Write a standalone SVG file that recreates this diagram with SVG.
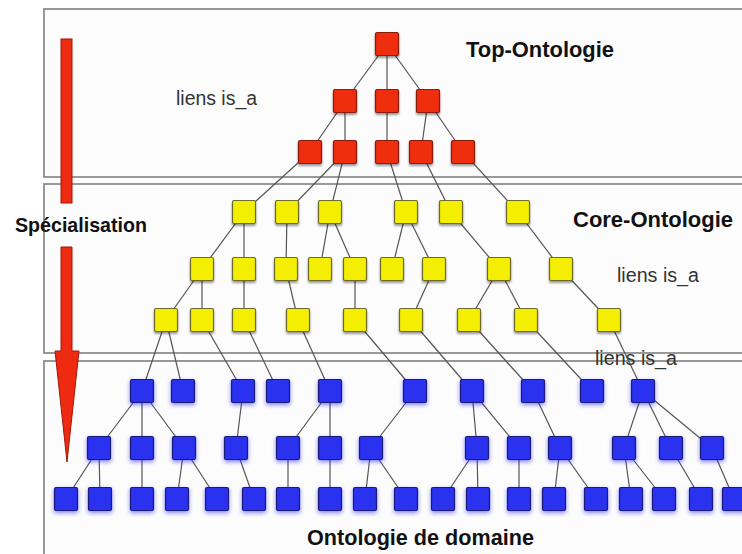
<svg xmlns="http://www.w3.org/2000/svg" width="742" height="554" viewBox="0 0 742 554">
<style>
.box{fill:#fcfcfc;stroke:#8e8e8e;stroke-width:1.8}
.e line{stroke:#555;stroke-width:1.2}
.rn{fill:#ef2d10;stroke:#8a1c0a;stroke-width:1.2;filter:url(#sh)}
.yn{fill:#f4ef00;stroke:#6d6a2a;stroke-width:1.2;filter:url(#sh)}
.bn{fill:#2b30ef;stroke:#1c1f78;stroke-width:1.2;filter:url(#bsh)}
.t{font-family:"Liberation Sans",Arial,sans-serif;font-weight:bold;fill:#111}
.l{font-family:"Liberation Sans",Arial,sans-serif;fill:#333;font-size:20px}
.arr{fill:#ee2a10;stroke:#a01808;stroke-width:1}
</style>
<defs>
<filter id="sh" x="-30%" y="-30%" width="160%" height="170%"><feDropShadow dx="0" dy="2" stdDeviation="1.3" flood-color="#000" flood-opacity="0.4"/></filter>
<filter id="bsh" x="-40%" y="-40%" width="180%" height="190%"><feDropShadow dx="0" dy="2" stdDeviation="2" flood-color="#2020ff" flood-opacity="0.55"/></filter>
</defs>
<rect width="742" height="554" fill="#ffffff"/>
<g id="sections">
<rect class="box" x="44" y="9" width="720" height="168"/>
<rect class="box" x="44" y="184" width="720" height="169"/>
<rect class="box" x="44" y="361" width="720" height="220"/>
</g>
<g id="arrow">
<rect class="arr" x="61" y="39" width="11" height="164"/>
<polygon class="arr" points="61,247 72,247 72,351 79,351 67,462 55,351 61,351"/>
</g>
<g id="connectors" class="e">
<line x1="387" y1="44" x2="345" y2="101"/><line x1="387" y1="44" x2="387" y2="101"/><line x1="387" y1="44" x2="428" y2="101"/>
<line x1="345" y1="101" x2="310" y2="152"/><line x1="345" y1="101" x2="345" y2="152"/><line x1="387" y1="101" x2="387" y2="152"/>
<line x1="428" y1="101" x2="421" y2="152"/><line x1="428" y1="101" x2="463" y2="152"/>
<line x1="310" y1="152" x2="244" y2="212"/><line x1="345" y1="152" x2="287" y2="212"/><line x1="345" y1="152" x2="330" y2="212"/>
<line x1="387" y1="152" x2="406" y2="212"/><line x1="421" y1="152" x2="451" y2="212"/><line x1="463" y1="152" x2="518" y2="212"/>
<line x1="244" y1="212" x2="202" y2="269"/><line x1="244" y1="212" x2="244" y2="269"/><line x1="287" y1="212" x2="286" y2="269"/>
<line x1="330" y1="212" x2="320" y2="269"/><line x1="330" y1="212" x2="355" y2="269"/><line x1="406" y1="212" x2="392" y2="269"/>
<line x1="406" y1="212" x2="434" y2="269"/><line x1="451" y1="212" x2="499" y2="269"/><line x1="518" y1="212" x2="561" y2="269"/>
<line x1="202" y1="269" x2="166" y2="320"/><line x1="202" y1="269" x2="202" y2="320"/><line x1="244" y1="269" x2="244" y2="320"/>
<line x1="286" y1="269" x2="298" y2="320"/><line x1="355" y1="269" x2="355" y2="320"/><line x1="434" y1="269" x2="411" y2="320"/>
<line x1="499" y1="269" x2="469" y2="320"/><line x1="499" y1="269" x2="526" y2="320"/><line x1="561" y1="269" x2="609" y2="320"/>
<line x1="166" y1="320" x2="142" y2="391"/><line x1="166" y1="320" x2="183" y2="391"/><line x1="202" y1="320" x2="243" y2="391"/>
<line x1="244" y1="320" x2="278" y2="391"/><line x1="298" y1="320" x2="330" y2="391"/><line x1="355" y1="320" x2="415" y2="391"/>
<line x1="411" y1="320" x2="472" y2="391"/><line x1="469" y1="320" x2="533" y2="391"/><line x1="526" y1="320" x2="592" y2="391"/>
<line x1="609" y1="320" x2="643" y2="391"/>
<line x1="142" y1="391" x2="99" y2="448"/><line x1="142" y1="391" x2="142" y2="448"/><line x1="142" y1="391" x2="184" y2="448"/>
<line x1="243" y1="391" x2="236" y2="448"/><line x1="330" y1="391" x2="288" y2="448"/><line x1="330" y1="391" x2="330" y2="448"/>
<line x1="415" y1="391" x2="371" y2="448"/><line x1="472" y1="391" x2="477" y2="448"/><line x1="472" y1="391" x2="519" y2="448"/>
<line x1="533" y1="391" x2="560" y2="448"/><line x1="643" y1="391" x2="624" y2="448"/><line x1="643" y1="391" x2="671" y2="448"/>
<line x1="643" y1="391" x2="712" y2="448"/>
<line x1="99" y1="448" x2="66" y2="499"/><line x1="99" y1="448" x2="100" y2="499"/><line x1="142" y1="448" x2="142" y2="499"/>
<line x1="184" y1="448" x2="177" y2="499"/><line x1="184" y1="448" x2="217" y2="499"/><line x1="236" y1="448" x2="254" y2="499"/>
<line x1="288" y1="448" x2="288" y2="499"/><line x1="330" y1="448" x2="330" y2="499"/><line x1="371" y1="448" x2="365" y2="499"/>
<line x1="371" y1="448" x2="406" y2="499"/><line x1="477" y1="448" x2="443" y2="499"/><line x1="477" y1="448" x2="478" y2="499"/>
<line x1="519" y1="448" x2="519" y2="499"/><line x1="560" y1="448" x2="554" y2="499"/><line x1="560" y1="448" x2="596" y2="499"/>
<line x1="624" y1="448" x2="631" y2="499"/><line x1="624" y1="448" x2="664" y2="499"/><line x1="671" y1="448" x2="701" y2="499"/>
<line x1="712" y1="448" x2="734" y2="499"/>
</g>
<g id="top-nodes">
<g id="r1"><rect class="rn" x="375.5" y="32.5" width="23" height="23" rx="1.5"/></g>
<g id="r2a"><rect class="rn" x="333.5" y="89.5" width="23" height="23" rx="1.5"/></g>
<g id="r2b"><rect class="rn" x="375.5" y="89.5" width="23" height="23" rx="1.5"/></g>
<g id="r2c"><rect class="rn" x="416.5" y="89.5" width="23" height="23" rx="1.5"/></g>
<g id="r3a"><rect class="rn" x="298.5" y="140.5" width="23" height="23" rx="1.5"/></g>
<g id="r3b"><rect class="rn" x="333.5" y="140.5" width="23" height="23" rx="1.5"/></g>
<g id="r3c"><rect class="rn" x="375.5" y="140.5" width="23" height="23" rx="1.5"/></g>
<g id="r3d"><rect class="rn" x="409.5" y="140.5" width="23" height="23" rx="1.5"/></g>
<g id="r3e"><rect class="rn" x="451.5" y="140.5" width="23" height="23" rx="1.5"/></g>
</g>
<g id="core-nodes">
<g id="y1a"><rect class="yn" x="232.5" y="200.5" width="23" height="23" rx="1.5"/></g>
<g id="y1b"><rect class="yn" x="275.5" y="200.5" width="23" height="23" rx="1.5"/></g>
<g id="y1c"><rect class="yn" x="318.5" y="200.5" width="23" height="23" rx="1.5"/></g>
<g id="y1d"><rect class="yn" x="394.5" y="200.5" width="23" height="23" rx="1.5"/></g>
<g id="y1e"><rect class="yn" x="439.5" y="200.5" width="23" height="23" rx="1.5"/></g>
<g id="y1f"><rect class="yn" x="506.5" y="200.5" width="23" height="23" rx="1.5"/></g>
<g id="y2a"><rect class="yn" x="190.5" y="257.5" width="23" height="23" rx="1.5"/></g>
<g id="y2b"><rect class="yn" x="232.5" y="257.5" width="23" height="23" rx="1.5"/></g>
<g id="y2c"><rect class="yn" x="274.5" y="257.5" width="23" height="23" rx="1.5"/></g>
<g id="y2d"><rect class="yn" x="308.5" y="257.5" width="23" height="23" rx="1.5"/></g>
<g id="y2e"><rect class="yn" x="343.5" y="257.5" width="23" height="23" rx="1.5"/></g>
<g id="y2f"><rect class="yn" x="380.5" y="257.5" width="23" height="23" rx="1.5"/></g>
<g id="y2g"><rect class="yn" x="422.5" y="257.5" width="23" height="23" rx="1.5"/></g>
<g id="y2h"><rect class="yn" x="487.5" y="257.5" width="23" height="23" rx="1.5"/></g>
<g id="y2i"><rect class="yn" x="549.5" y="257.5" width="23" height="23" rx="1.5"/></g>
<g id="y3a"><rect class="yn" x="154.5" y="308.5" width="23" height="23" rx="1.5"/></g>
<g id="y3b"><rect class="yn" x="190.5" y="308.5" width="23" height="23" rx="1.5"/></g>
<g id="y3c"><rect class="yn" x="232.5" y="308.5" width="23" height="23" rx="1.5"/></g>
<g id="y3d"><rect class="yn" x="286.5" y="308.5" width="23" height="23" rx="1.5"/></g>
<g id="y3e"><rect class="yn" x="343.5" y="308.5" width="23" height="23" rx="1.5"/></g>
<g id="y3f"><rect class="yn" x="399.5" y="308.5" width="23" height="23" rx="1.5"/></g>
<g id="y3g"><rect class="yn" x="457.5" y="308.5" width="23" height="23" rx="1.5"/></g>
<g id="y3h"><rect class="yn" x="514.5" y="308.5" width="23" height="23" rx="1.5"/></g>
<g id="y3i"><rect class="yn" x="597.5" y="308.5" width="23" height="23" rx="1.5"/></g>
</g>
<g id="domain-nodes">
<g id="b1a"><rect class="bn" x="130.5" y="379.5" width="23" height="23" rx="1.5"/></g>
<g id="b1b"><rect class="bn" x="171.5" y="379.5" width="23" height="23" rx="1.5"/></g>
<g id="b1c"><rect class="bn" x="231.5" y="379.5" width="23" height="23" rx="1.5"/></g>
<g id="b1d"><rect class="bn" x="266.5" y="379.5" width="23" height="23" rx="1.5"/></g>
<g id="b1e"><rect class="bn" x="318.5" y="379.5" width="23" height="23" rx="1.5"/></g>
<g id="b1f"><rect class="bn" x="403.5" y="379.5" width="23" height="23" rx="1.5"/></g>
<g id="b1g"><rect class="bn" x="460.5" y="379.5" width="23" height="23" rx="1.5"/></g>
<g id="b1h"><rect class="bn" x="521.5" y="379.5" width="23" height="23" rx="1.5"/></g>
<g id="b1i"><rect class="bn" x="580.5" y="379.5" width="23" height="23" rx="1.5"/></g>
<g id="b1j"><rect class="bn" x="631.5" y="379.5" width="23" height="23" rx="1.5"/></g>
<g id="b2a"><rect class="bn" x="87.5" y="436.5" width="23" height="23" rx="1.5"/></g>
<g id="b2b"><rect class="bn" x="130.5" y="436.5" width="23" height="23" rx="1.5"/></g>
<g id="b2c"><rect class="bn" x="172.5" y="436.5" width="23" height="23" rx="1.5"/></g>
<g id="b2d"><rect class="bn" x="224.5" y="436.5" width="23" height="23" rx="1.5"/></g>
<g id="b2e"><rect class="bn" x="276.5" y="436.5" width="23" height="23" rx="1.5"/></g>
<g id="b2f"><rect class="bn" x="318.5" y="436.5" width="23" height="23" rx="1.5"/></g>
<g id="b2g"><rect class="bn" x="359.5" y="436.5" width="23" height="23" rx="1.5"/></g>
<g id="b2h"><rect class="bn" x="465.5" y="436.5" width="23" height="23" rx="1.5"/></g>
<g id="b2i"><rect class="bn" x="507.5" y="436.5" width="23" height="23" rx="1.5"/></g>
<g id="b2j"><rect class="bn" x="548.5" y="436.5" width="23" height="23" rx="1.5"/></g>
<g id="b2k"><rect class="bn" x="612.5" y="436.5" width="23" height="23" rx="1.5"/></g>
<g id="b2l"><rect class="bn" x="659.5" y="436.5" width="23" height="23" rx="1.5"/></g>
<g id="b2m"><rect class="bn" x="700.5" y="436.5" width="23" height="23" rx="1.5"/></g>
<g id="b3a"><rect class="bn" x="54.5" y="487.5" width="23" height="23" rx="1.5"/></g>
<g id="b3b"><rect class="bn" x="88.5" y="487.5" width="23" height="23" rx="1.5"/></g>
<g id="b3c"><rect class="bn" x="130.5" y="487.5" width="23" height="23" rx="1.5"/></g>
<g id="b3d"><rect class="bn" x="165.5" y="487.5" width="23" height="23" rx="1.5"/></g>
<g id="b3e"><rect class="bn" x="205.5" y="487.5" width="23" height="23" rx="1.5"/></g>
<g id="b3f"><rect class="bn" x="242.5" y="487.5" width="23" height="23" rx="1.5"/></g>
<g id="b3g"><rect class="bn" x="276.5" y="487.5" width="23" height="23" rx="1.5"/></g>
<g id="b3h"><rect class="bn" x="318.5" y="487.5" width="23" height="23" rx="1.5"/></g>
<g id="b3i"><rect class="bn" x="353.5" y="487.5" width="23" height="23" rx="1.5"/></g>
<g id="b3j"><rect class="bn" x="394.5" y="487.5" width="23" height="23" rx="1.5"/></g>
<g id="b3k"><rect class="bn" x="431.5" y="487.5" width="23" height="23" rx="1.5"/></g>
<g id="b3l"><rect class="bn" x="466.5" y="487.5" width="23" height="23" rx="1.5"/></g>
<g id="b3m"><rect class="bn" x="507.5" y="487.5" width="23" height="23" rx="1.5"/></g>
<g id="b3n"><rect class="bn" x="542.5" y="487.5" width="23" height="23" rx="1.5"/></g>
<g id="b3o"><rect class="bn" x="584.5" y="487.5" width="23" height="23" rx="1.5"/></g>
<g id="b3p"><rect class="bn" x="619.5" y="487.5" width="23" height="23" rx="1.5"/></g>
<g id="b3q"><rect class="bn" x="652.5" y="487.5" width="23" height="23" rx="1.5"/></g>
<g id="b3r"><rect class="bn" x="689.5" y="487.5" width="23" height="23" rx="1.5"/></g>
<g id="b3s"><rect class="bn" x="722.5" y="487.5" width="23" height="23" rx="1.5"/></g>
</g>
<g id="labels">
<text class="t" x="466" y="57" font-size="21.5" textLength="148" lengthAdjust="spacingAndGlyphs">Top-Ontologie</text>
<text class="t" x="573" y="227" font-size="21.5" textLength="160" lengthAdjust="spacingAndGlyphs">Core-Ontologie</text>
<text class="t" x="307" y="545" font-size="22" textLength="227" lengthAdjust="spacingAndGlyphs">Ontologie de domaine</text>
<text class="t" x="15" y="232" font-size="21" textLength="132" lengthAdjust="spacingAndGlyphs">Spécialisation</text>
<text class="l" x="176" y="105" textLength="81" lengthAdjust="spacingAndGlyphs">liens is_a</text>
<text class="l" x="617" y="282" textLength="82" lengthAdjust="spacingAndGlyphs">liens is_a</text>
<text class="l" x="595" y="365" textLength="82" lengthAdjust="spacingAndGlyphs">liens is_a</text>
</g>
</svg>
